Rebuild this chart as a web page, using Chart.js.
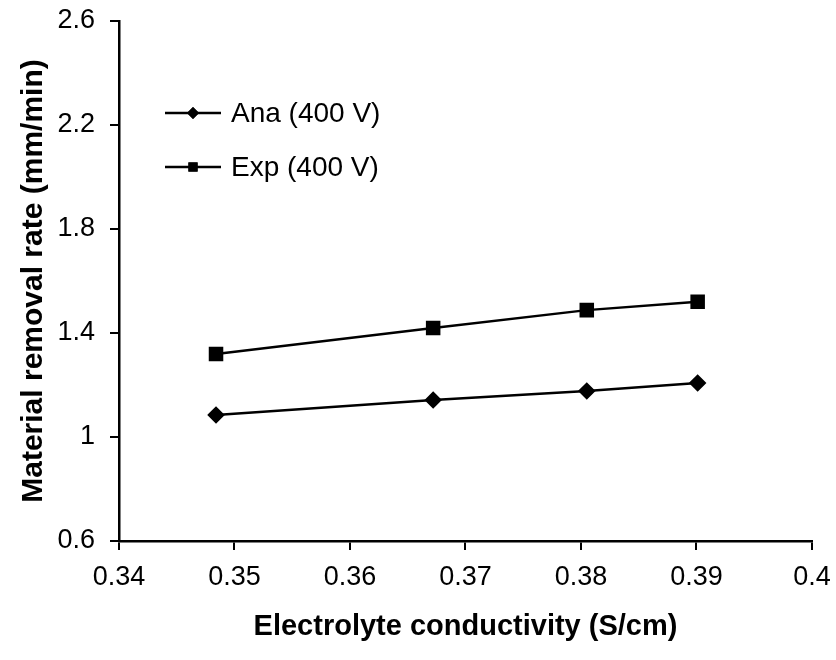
<!DOCTYPE html>
<html>
<head>
<meta charset="utf-8">
<title>Material removal rate vs electrolyte conductivity</title>
<script src="https://cdn.jsdelivr.net/npm/chart.js@4.4.1/dist/chart.umd.min.js"></script>
<style>
    body { margin: 0; background: #fff; }
    #wrap { width: 836px; height: 660px; }
</style>
</head>
<body>
<div id="wrap"><canvas id="mrrChart" width="836" height="660"></canvas></div>
<script>
// Data
const conductivity = [0.3484, 0.3672, 0.3805, 0.3901];
const anaRate = [1.085, 1.142, 1.177, 1.208];
const expRate = [1.319, 1.419, 1.488, 1.52];
const xTicks = [0.34, 0.35, 0.36, 0.37, 0.38, 0.39, 0.4];
const yTicks = [0.6, 1, 1.4, 1.8, 2.2, 2.6];

const FONT = '"Liberation Sans", Arial, sans-serif';

const toPoints = ys => ys.map((y, i) => ({ x: conductivity[i], y: y }));

// Legend drawn inside the plot, line + marker like the original
const insideLegend = {
    id: 'insideLegend',
    afterDraw(chart) {
        const ctx = chart.ctx;
        const rows = [113, 167];
        ctx.save();
        chart.data.datasets.forEach((ds, i) => {
            const y = rows[i];
            ctx.strokeStyle = '#000';
            ctx.lineWidth = 2.5;
            ctx.beginPath();
            ctx.moveTo(165, y);
            ctx.lineTo(221, y);
            ctx.stroke();
            ctx.fillStyle = '#000';
            Chart.helpers.drawPoint(ctx, {
                pointStyle: ds.pointStyle,
                radius: ds.pointStyle === 'rect' ? 6.5 : 6,
                borderWidth: 0
            }, 193, y);
            ctx.fill();
            ctx.font = '28px ' + FONT;
            ctx.textBaseline = 'middle';
            ctx.textAlign = 'left';
            ctx.fillText(ds.label, 231, y + 1);
        });
        ctx.restore();
    }
};

new Chart(document.getElementById('mrrChart').getContext('2d'), {
    type: 'line',
    data: {
        datasets: [{
            label: 'Ana (400 V)',
            data: toPoints(anaRate),
            borderColor: '#000',
            backgroundColor: '#000',
            borderWidth: 2.5,
            pointStyle: 'rectRot',
            pointRadius: 7,
            tension: 0
        }, {
            label: 'Exp (400 V)',
            data: toPoints(expRate),
            borderColor: '#000',
            backgroundColor: '#000',
            borderWidth: 2.5,
            pointStyle: 'rect',
            pointRadius: 8.5,
            tension: 0
        }]
    },
    options: {
        responsive: false,
        animation: false,
        layout: { padding: { left: 0, right: 24, top: 21, bottom: 0 } },
        plugins: {
            legend: { display: false },
            tooltip: { enabled: false }
        },
        scales: {
            x: {
                type: 'linear',
                min: 0.34,
                max: 0.4,
                afterBuildTicks: s => { s.ticks = xTicks.map(v => ({ value: v })); },
                afterFit: s => {
                    s.height = 119;
                    s.paddingLeft = 0;
                    s.paddingRight = 0;
                },
                ticks: {
                    color: '#000',
                    font: { family: FONT, size: 27 },
                    padding: 11,
                    callback: v => String(+v.toFixed(2))
                },
                grid: { drawOnChartArea: false, drawTicks: true, tickLength: 9, color: '#000', lineWidth: 2 },
                border: { color: '#000', width: 2.5 },
                title: {
                    display: true,
                    text: 'Electrolyte conductivity (S/cm)',
                    color: '#000',
                    font: { family: FONT, size: 29, weight: 'bold' },
                    padding: { top: 0, bottom: 16 }
                }
            },
            y: {
                min: 0.6,
                max: 2.6,
                afterBuildTicks: s => { s.ticks = yTicks.map(v => ({ value: v })); },
                afterFit: s => {
                    s.width = 119;
                    s.paddingTop = 0;
                    s.paddingBottom = 0;
                },
                ticks: {
                    color: '#000',
                    font: { family: FONT, size: 27 },
                    padding: 15,
                    callback: v => String(+v.toFixed(2))
                },
                grid: { drawOnChartArea: false, drawTicks: true, tickLength: 9, color: '#000', lineWidth: 2 },
                border: { color: '#000', width: 2.5 },
                title: {
                    display: true,
                    text: 'Material removal rate (mm/min)',
                    color: '#000',
                    font: { family: FONT, size: 30, weight: 'bold' },
                    padding: { top: 16, bottom: 0 }
                }
            }
        }
    },
    plugins: [insideLegend]
});
</script>
</body>
</html>
